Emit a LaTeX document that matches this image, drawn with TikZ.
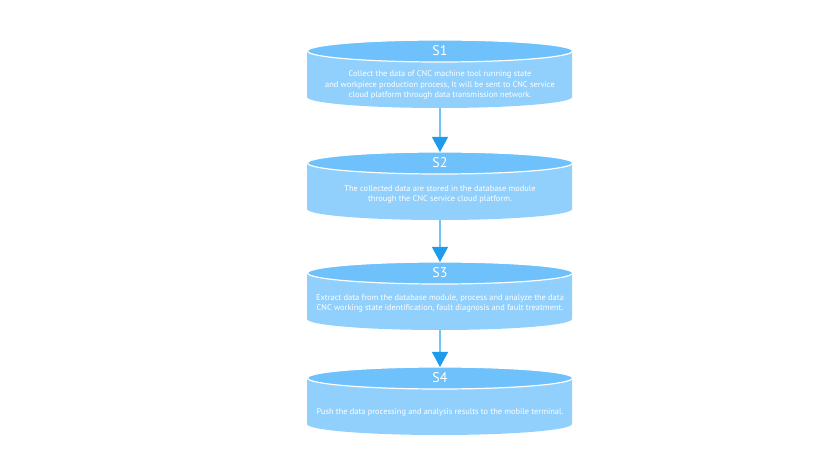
\documentclass[tikz,border=0pt]{standalone}
\usepackage{fontspec}
\setmainfont{PT Sans}
\usetikzlibrary{arrows.meta}
\definecolor{captop}{HTML}{6EC1FB}
\definecolor{capbody}{HTML}{91D0FC}
\definecolor{shaft}{HTML}{74C4F2}
\definecolor{head}{HTML}{1E9BEA}
\tikzstyle{body}=[fill=capbody]
\tikzstyle{lid}=[fill=captop,draw=white,line width=1.2pt]
\tikzstyle{title}=[text=white,font=\fontsize{14}{14}\selectfont]
\tikzstyle{desc}=[text=white,font=\fontsize{8.4}{10.2}\selectfont,align=center,inner sep=0pt]
\tikzstyle{flow}=[draw=shaft,line width=1.2pt,-{Triangle[length=15pt,width=16pt,color=head]}]

\begin{document}
\begin{tikzpicture}[x=1pt,y=1pt]
     \useasboundingbox (0,0) rectangle (816,474);
     % First we draw the four cylinders
     \foreach \y/\name in {423/1, 311/2, 201/3, 96/4}{
       \fill[body] (307,\y) -- (307,\y-46)
         arc[start angle=180,end angle=360,x radius=132.5,y radius=11]
         -- (572,\y) -- cycle;
       \path[lid] (440,\y) ellipse[x radius=132.5,y radius=11];
       \node[title] (s\name) at (440,\y) {S\name};
       \coordinate (top\name) at (440,\y+11);
       \coordinate (bot\name) at (440,\y-57);
     }
     % Then the texts on the cylinders
     \node[desc] (d1) at ([yshift=-34pt]s1) {Collect the data of CNC machine tool running state\\
       and workpiece production process, It will be sent to CNC service\\
       cloud platform through data transmission network.};
     \node[desc] (d2) at ([yshift=-31.5pt]s2) {The collected data are stored in the database module\\
       through the CNC service cloud platform.};
     \node[desc] (d3) at ([yshift=-30.5pt]s3) {Extract data from the database module, process and analyze the data\\
       CNC working state identification, fault diagnosis and fault treatment.};
     \node[desc] (d4) at ([yshift=-34pt]s4) {Push the data processing and analysis results to the mobile terminal.};
     % Connect the cylinders with arrows
     \foreach \source/\dest in {1/2, 2/3, 3/4}
     \path[flow] (bot\source) -- (top\dest);
\end{tikzpicture}
\end{document}
